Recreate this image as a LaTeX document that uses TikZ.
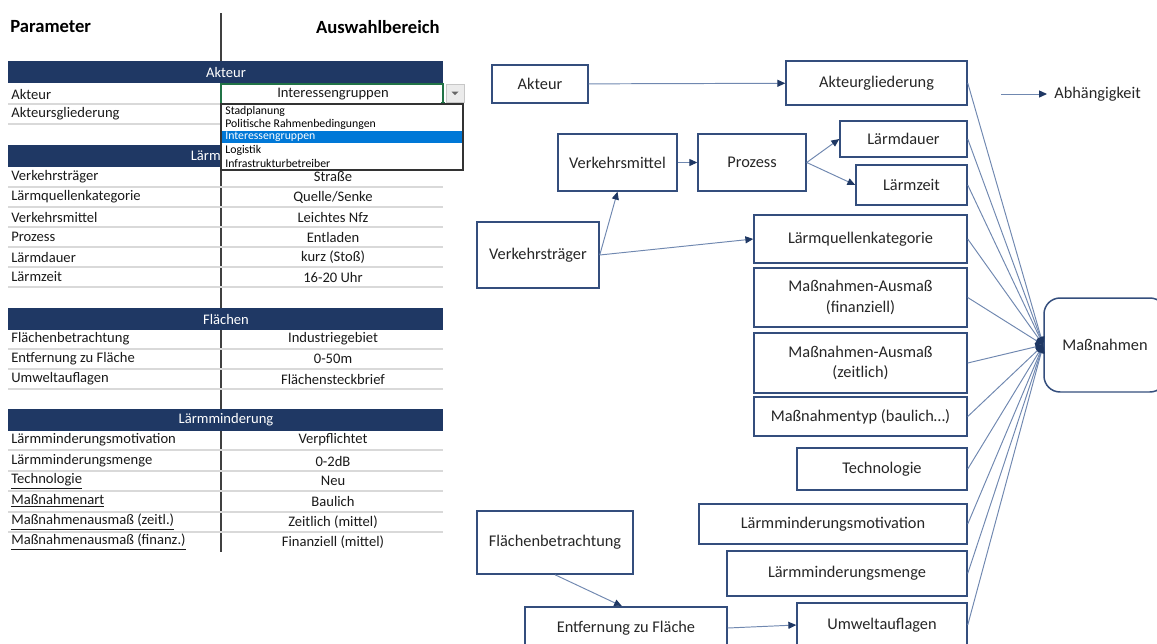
\documentclass[tikz,border=0pt]{standalone}
\usepackage{fontspec}
\setmainfont{Carlito}
\usepackage{xcolor}
\usetikzlibrary{arrows.meta}

\definecolor{navy}{RGB}{31,56,100}
\definecolor{boxline}{RGB}{52,78,125}
\definecolor{linkline}{RGB}{112,136,176}
\definecolor{gridline}{RGB}{217,217,217}
\definecolor{xlgreen}{RGB}{33,115,70}
\definecolor{selblue}{RGB}{0,120,215}
\definecolor{txt}{RGB}{38,38,38}

\begin{document}
\begin{tikzpicture}[x=0.02cm, y=-0.02cm,
    box/.style={draw=boxline, line width=0.85pt, rectangle, align=center, text=txt, font=\fontsize{9.3}{11.5}\selectfont},
    dep/.style={draw=linkline, line width=0.55pt, -{Triangle[length=4.5pt,width=4pt,color=navy]}},
    param/.style={anchor=west, inner sep=0pt, text=black!90, font=\fontsize{8.3}{10}\selectfont},
    value/.style={inner sep=0pt, text=black!90, font=\fontsize{8.3}{10}\selectfont},
    item/.style={anchor=west, inner sep=0pt, font=\fontsize{6.7}{7}\selectfont}]

    \clip (0,0) rectangle (1157,643);

    % Table head
    \node[anchor=west, inner sep=0pt, font=\bfseries\fontsize{10.6}{12}\selectfont] (head1) at (10,27) {Parameter};
    \node[anchor=east, inner sep=0pt, font=\bfseries\fontsize{10.6}{12}\selectfont] (head2) at (440,27) {Auswahlbereich};
    \draw[black!75, line width=0.7pt] (221,13) -- (221,552);

    % Section bands
    \foreach \y/\t in {61/Akteur, 308/Flächen, 409/Lärmminderung} {
        \fill[navy] (8,\y) rectangle (443,\y+22);
        \node[value, text=white] (band\y) at (226,\y+11) {\t};
    }
    \fill[navy] (8,145) rectangle (443,167);
    \node[value, text=white, anchor=east] (band145) at (221,156) {Lärm};

    % Rows
    \foreach \y in {104,124,187,207,227,247,267,287,349,369,389,450,471,491,512,532}
        \draw[gridline, line width=0.9pt] (8,\y) -- (443,\y);
    \foreach \y/\p/\v in {94/Akteur/Interessengruppen, 114/Akteursgliederung/{},
        177/Verkehrsträger/Straße, 197/Lärmquellenkategorie/{Quelle/Senke},
        217/Verkehrsmittel/Leichtes Nfz, 237/Prozess/Entladen,
        257/Lärmdauer/kurz (Stoß), 277/Lärmzeit/16-20 Uhr,
        339/Flächenbetrachtung/Industriegebiet, 359/Entfernung zu Fläche/0-50m,
        379/Umweltauflagen/Flächensteckbrief,
        440/Lärmminderungsmotivation/Verpflichtet, 461/Lärmminderungsmenge/0-2dB,
        481/\underline{Technologie}/Neu, 501/\underline{Maßnahmenart}/Baulich,
        522/\underline{Maßnahmenausmaß (zeitl.)}/Zeitlich (mittel),
        542/\underline{Maßnahmenausmaß (finanz.)}/Finanziell (mittel)} {
        \node[param] (p\y) at (11,\y) {\p};
        \node[value] (v\y) at (333,\y) {\v};
    }

    % Selected cell with drop-down
    \draw[xlgreen, line width=0.9pt] (221,84) rectangle (443,104);
    \fill[xlgreen] (441,102) rectangle (445,106);
    \draw[fill=black!8, draw=black!22] (446,84) rectangle (464,102);
    \fill[black!60] (451.5,91.5) -- (458.5,91.5) -- (455,95) -- cycle;
    \draw[fill=white, draw=black!80, line width=0.6pt] (221,104) rectangle (463,170);
    \fill[selblue] (222,131) rectangle (462,143);
    \node[item] (d1) at (225,111) {Stadplanung};
    \node[item] (d2) at (225,124) {Politische Rahmenbedingungen};
    \node[item, text=white] (d3) at (225,137) {Interessengruppen};
    \node[item] (d4) at (225,150) {Logistik};
    \node[item] (d5) at (225,163) {Infrastrukturbetreiber};

    % Dependency graph
    \node[box, minimum width=1.92cm, minimum height=0.76cm] (akteur) at (540,84) {Akteur};
    \node[box, minimum width=3.62cm, minimum height=0.88cm] (gliederung) at (876.5,83) {Akteurgliederung};
    \node[box, minimum width=2.38cm, minimum height=1.14cm] (vmittel) at (617.5,162.5) {Verkehrsmittel};
    \node[box, minimum width=2.16cm, minimum height=1.14cm] (prozess) at (752,162.5) {Prozess};
    \node[box, minimum width=2.54cm, minimum height=0.72cm] (dauer) at (903.5,139) {Lärmdauer};
    \node[box, minimum width=2.22cm, minimum height=0.80cm] (zeit) at (911.5,185) {Lärmzeit};
    \node[box, minimum width=2.44cm, minimum height=1.32cm] (vtraeger) at (538,255) {Verkehrsträger};
    \node[box, minimum width=4.26cm, minimum height=0.96cm] (quelle) at (860.5,239) {Lärmquellenkategorie};
    \node[box, minimum width=4.26cm, minimum height=1.18cm] (ausmassfin) at (860.5,297.5) {Maßnahmen-Ausmaß\\(finanziell)};
    \node[box, minimum width=4.26cm, minimum height=1.20cm] (ausmasszeit) at (860.5,363) {Maßnahmen-Ausmaß\\(zeitlich)};
    \node[box, minimum width=4.26cm, minimum height=0.78cm] (typ) at (860.5,416.5) {Maßnahmentyp (baulich…)};
    \node[box, minimum width=3.40cm, minimum height=0.84cm] (techno) at (882,469) {Technologie};
    \node[box, minimum width=5.36cm, minimum height=0.80cm] (motiv) at (833,524) {Lärmminderungsmotivation};
    \node[box, minimum width=4.80cm, minimum height=0.90cm] (menge) at (847,573.5) {Lärmminderungsmenge};
    \node[box, minimum width=3.40cm, minimum height=0.88cm] (umwelt) at (882,625) {Umweltauflagen};
    \node[box, minimum width=3.12cm, minimum height=1.26cm] (flaeche) at (555,542.5) {Flächenbetrachtung};
    \node[box, minimum width=4.04cm, minimum height=0.84cm] (entfernung) at (626,628) {Entfernung zu Fläche};
    \node[box, rounded corners=0.32cm, minimum width=2.44cm, minimum height=1.88cm] (mass) at (1105,345) {Maßnahmen};

    % Legend
    \node[anchor=west, inner sep=0pt, text=txt, font=\fontsize{9.3}{11.5}\selectfont] (legend) at (1054,94) {Abhängigkeit};
    \coordinate (lgstart) at (1001,94);
    \draw[dep] (lgstart) -- ([xshift=-0.14cm]legend.west);

    % Arrows
    \draw[dep] (akteur) -- (gliederung);
    \draw[dep] (vtraeger.east) -- (vmittel.south);
    \draw[dep] (vtraeger.east) -- (quelle.west);
    \draw[dep] (vmittel) -- (prozess);
    \draw[dep] (prozess.east) -- (dauer.west);
    \draw[dep] (prozess.east) -- (zeit.west);
    \draw[dep] (flaeche.south) -- ([xshift=-0.08cm]entfernung.north);
    \draw[dep] (entfernung.east) -- (umwelt.west);
    \foreach \n in {gliederung, dauer, zeit, quelle, ausmassfin, ausmasszeit, typ, techno, motiv, menge, umwelt}
        \draw[dep] (\n.east) -- (mass.west);

\end{tikzpicture}
\end{document}
